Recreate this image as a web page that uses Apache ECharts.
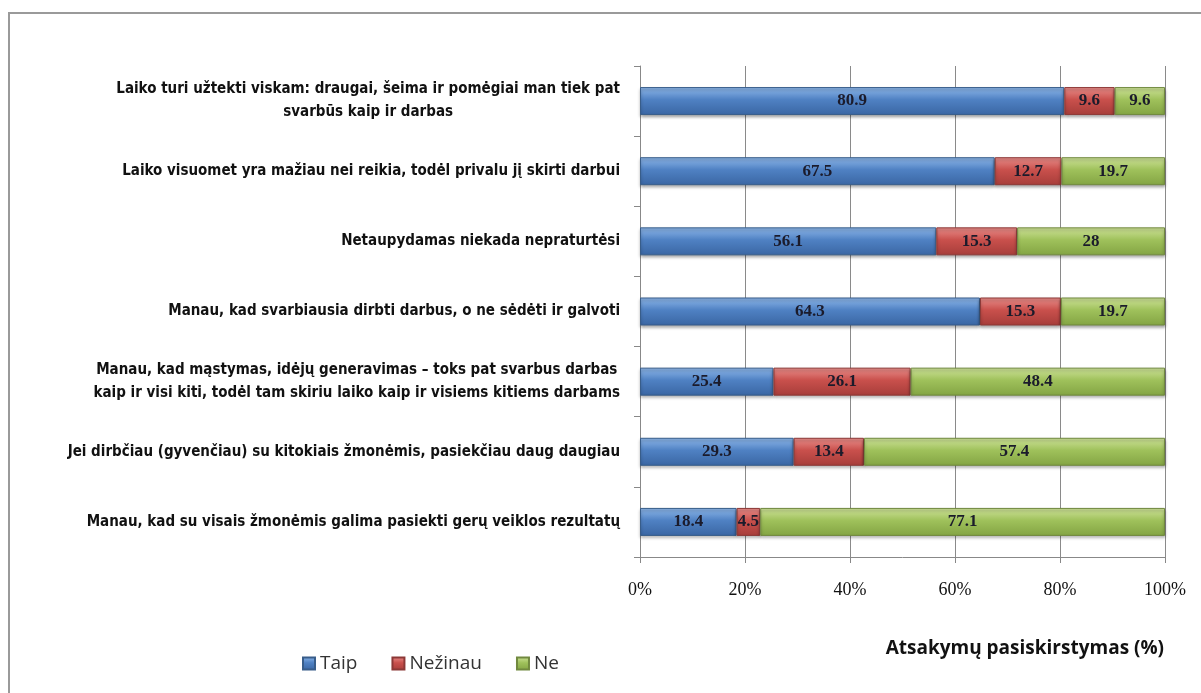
<!DOCTYPE html>
<html>
<head>
<meta charset="utf-8">
<script src="https://cdn.jsdelivr.net/npm/echarts@6/dist/echarts.min.js"></script>
<style>
  html, body { margin: 0; padding: 0; background: #fff; }
  #chart { width: 1201px; height: 693px; }
</style>
</head>
<body>
<div id="chart"></div>
<script>
// Klausimai (iš viršaus į apačią)
const categories = [
    'Laiko turi užtekti viskam: draugai, šeima ir pomėgiai man tiek pat\nsvarbūs kaip ir darbas',
    'Laiko visuomet yra mažiau nei reikia, todėl privalu jį skirti darbui',
    'Netaupydamas niekada nepraturtėsi',
    'Manau, kad svarbiausia dirbti darbus, o ne sėdėti ir galvoti',
    'Manau, kad mąstymas, idėjų generavimas – toks pat svarbus darbas\nkaip ir visi kiti, todėl tam skiriu laiko kaip ir visiems kitiems darbams',
    'Jei dirbčiau (gyvenčiau) su kitokiais žmonėmis, pasiekčiau daug daugiau',
    'Manau, kad su visais žmonėmis galima pasiekti gerų veiklos rezultatų'
];

const taip = [80.9, 67.5, 56.1, 64.3, 25.4, 29.3, 18.4];
const nezinau = [9.6, 12.7, 15.3, 15.3, 26.1, 13.4, 4.5];
const ne = [9.6, 19.7, 28, 19.7, 48.4, 57.4, 77.1];

const tickLabels = ['0%', '20%', '40%', '60%', '80%', '100%'];

function grad(light, mid, dark) {
    return new echarts.graphic.LinearGradient(0, 0, 0, 1, [
        { offset: 0, color: light },
        { offset: 0.45, color: mid },
        { offset: 1, color: dark }
    ]);
}

// procentai nuo eilutės sumos
function toPercent(arr, i) {
    const total = taip[i] + nezinau[i] + ne[i];
    return arr[i] / total * 100;
}

function makeSeries(name, arr, colors) {
    return {
        name: name,
        type: 'bar',
        stack: 'total',
        barWidth: 28,
        data: arr.map((v, i) => ({ value: toPercent(arr, i), raw: v })),
        itemStyle: {
            color: grad(colors[0], colors[1], colors[2]),
            borderColor: colors[3],
            borderWidth: 1,
            shadowColor: 'rgba(0,0,0,0.35)',
            shadowBlur: 3,
            shadowOffsetY: 2
        },
        label: {
            show: true,
            position: 'inside',
            formatter: p => String(p.data.raw),
            fontFamily: "'Liberation Serif', 'DejaVu Serif', serif",
            fontWeight: 'bold',
            fontSize: 17,
            color: '#1b1b2b'
        }
    };
}

const chart = echarts.init(document.getElementById('chart'));

const option = {
    backgroundColor: '#fff',
    animation: false,
    grid: { left: 640, right: 36, top: 66, bottom: 136 },
    legend: {
        data: ['Taip', 'Nežinau', 'Ne'],
        left: 297,
        top: 649,
        icon: 'rect',
        itemWidth: 12,
        itemHeight: 12,
        itemGap: 34,
        textStyle: {
            fontFamily: "'Open Sans', 'DejaVu Sans', sans-serif",
            fontSize: 19,
            color: '#333'
        }
    },
    title: {
        text: 'Atsakymų pasiskirstymas (%)',
        right: 32,
        top: 634,
        textStyle: {
            fontFamily: "'Open Sans', 'DejaVu Sans', sans-serif",
            fontSize: 19,
            fontWeight: 'bold',
            color: '#111'
        }
    },
    xAxis: {
        type: 'value',
        min: 0,
        max: 100,
        interval: 20,
        axisLine: { show: true, lineStyle: { color: '#888' } },
        axisTick: { show: true, length: 6, lineStyle: { color: '#888' } },
        splitLine: { show: true, lineStyle: { color: '#8a8a8a' } },
        axisLabel: {
            margin: 24,
            formatter: v => tickLabels[Math.round(v / 20)],
            fontFamily: "'Liberation Serif', 'DejaVu Serif', serif",
            fontSize: 18,
            color: '#111'
        }
    },
    yAxis: {
        type: 'category',
        inverse: true,
        data: categories,
        axisLine: { show: true, lineStyle: { color: '#888' } },
        axisTick: { show: true, length: 6, lineStyle: { color: '#888' } },
        axisLabel: {
            margin: 20,
            align: 'right',
            formatter: v => '{c|' + v + '}',
            rich: {
                c: {
                    align: 'center',
                    lineHeight: 23,
                    fontFamily: "'Liberation Sans Narrow', 'DejaVu Sans Condensed', sans-serif",
                    fontWeight: 'bold',
                    fontSize: 15,
                    color: '#111'
                }
            }
        }
    },
    graphic: [
        {
            type: 'polyline',
            shape: { points: [[9, 693], [9, 13], [1201, 13]] },
            style: { stroke: '#9a9a9a', lineWidth: 2, fill: null }
        }
    ],
    series: [
        makeSeries('Taip', taip, ['#8fb8ea', '#4f81c3', '#3a66a3', '#385d8a']),
        makeSeries('Nežinau', nezinau, ['#ea8f8c', '#c9504c', '#a63d3a', '#8c3836']),
        makeSeries('Ne', ne, ['#cfe39a', '#9fc15b', '#83a443', '#71893f'])
    ]
};

chart.setOption(option);
</script>
</body>
</html>
